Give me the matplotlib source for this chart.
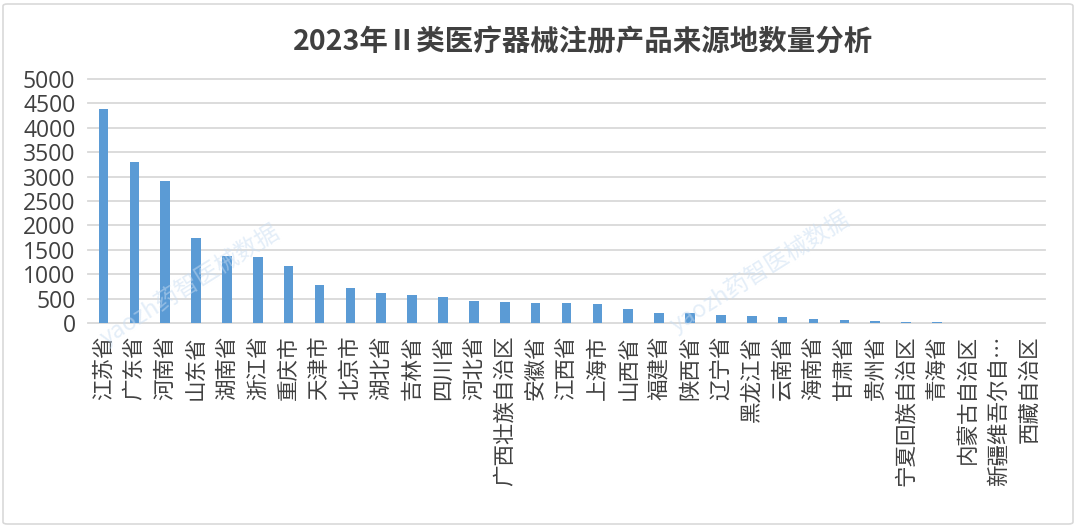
import matplotlib
matplotlib.use("Agg")
import matplotlib.pyplot as plt
from matplotlib.patches import FancyBboxPatch

plt.rcParams['font.family'] = ['Noto Sans CJK SC', 'DejaVu Sans']

title = "2023年Ⅱ类医疗器械注册产品来源地数量分析"
categories = ["江苏省", "广东省", "河南省", "山东省", "湖南省", "浙江省", "重庆市", "天津市",
              "北京市", "湖北省", "吉林省", "四川省", "河北省", "广西壮族自治区", "安徽省",
              "江西省", "上海市", "山西省", "福建省", "陕西省", "辽宁省", "黑龙江省", "云南省",
              "海南省", "甘肃省", "贵州省", "宁夏回族自治区", "青海省", "内蒙古自治区",
              "新疆维吾尔自…", "西藏自治区"]
values = [4390, 3305, 2900, 1750, 1380, 1355, 1165, 780,
          720, 605, 570, 535, 460, 440, 415,
          410, 395, 290, 210, 205, 160, 135, 130,
          90, 70, 45, 28, 20, 6, 3, 2]
yticks = [0, 500, 1000, 1500, 2000, 2500, 3000, 3500, 4000, 4500, 5000]

W, H = 1077, 527
fig = plt.figure(figsize=(W / 100, H / 100), dpi=100)
fig.patch.set_facecolor("white")

# outer rounded border
border = FancyBboxPatch((3 / W, 3 / H), (W - 7) / W, (H - 7) / H,
                        boxstyle="round,pad=0,rounding_size=0.004",
                        transform=fig.transFigure, facecolor="none",
                        edgecolor="#D9D9D9", linewidth=1.2)
fig.patches.append(border)

left, right = 88 / W, 1045 / W
bottom, top = (H - 323) / H, (H - 79) / H
ax = fig.add_axes([left, bottom, right - left, top - bottom])

x = list(range(len(categories)))
ax.bar(x, values, width=0.31, color="#5B9BD5", zorder=3)
ax.set_xlim(-0.5, len(categories) - 0.5)
ax.set_ylim(0, 5000)
ax.set_yticks(yticks)
ax.set_yticklabels([str(v) for v in yticks], fontsize=16.5, color="#404040",
                   family=["Open Sans", "DejaVu Sans"])
ax.set_xticks(x)
ax.set_xticklabels(categories, rotation=90, fontsize=15.5, color="#404040",
                   va="top", ha="center")
ax.tick_params(axis="both", length=0)
ax.tick_params(axis="y", pad=9)
ax.tick_params(axis="x", pad=9)
for s in ax.spines.values():
    s.set_visible(False)
ax.yaxis.grid(True, color="#D9D9D9", linewidth=1.3, zorder=0)
ax.set_axisbelow(True)
for t in ax.get_ygridlines():
    t.set_clip_on(False)

fig.text(583 / W, 1 - 42 / H, title, ha="center", va="center", fontsize=20.5,
         fontweight="bold", color="#404040")

# faint watermarks
wm = "yaozh药智医械数据"
wm_kw = dict(color="#C9DDF2", alpha=0.5, rotation=32, ha="center", va="center",
             fontsize=17, zorder=0)
for (wx, wy) in [(190, 285), (760, 272)]:
    fig.text(wx / W, 1 - wy / H, wm, **wm_kw)

fig.savefig("out.png", dpi=100, facecolor="white")
